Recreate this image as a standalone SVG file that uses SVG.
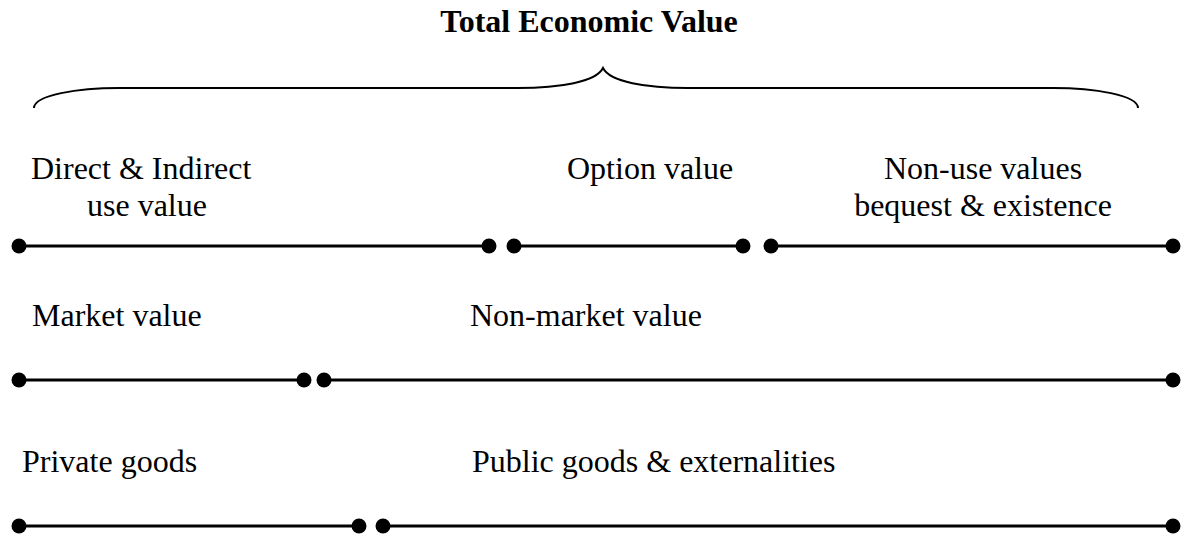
<svg xmlns="http://www.w3.org/2000/svg" width="1189" height="535" viewBox="0 0 1189 535">
<style>
.t{font-family:"Liberation Serif","Times New Roman",serif;font-size:32px;fill:#000}
.b{font-weight:bold}
.seg{stroke:#000;stroke-width:3.2;fill:none}
.dot{fill:#000}
.brace{stroke:#000;stroke-width:2;fill:none}
</style>
<rect width="1189" height="535" fill="#fff"/>
<g id="title"><text class="t b" x="589" y="32" text-anchor="middle">Total Economic Value</text></g>
<g id="brace"><path class="brace" d="M34,108 C34,95 78,88 119,88 L518,88 C560,88 596,82 603,68 C610,82 646,88 688,88 L1053,88 C1094,88 1138,95 1138,108"/></g>
<g id="label-direct"><text class="t" x="31" y="179">Direct &amp; Indirect</text><text class="t" x="87" y="216">use value</text></g>
<g id="label-option"><text class="t" x="567" y="179">Option value</text></g>
<g id="label-nonuse"><text class="t" x="983" y="179" text-anchor="middle">Non-use values</text><text class="t" x="983" y="216" text-anchor="middle">bequest &amp; existence</text></g>
<g id="label-market"><text class="t" x="32" y="326">Market value</text></g>
<g id="label-nonmarket"><text class="t" x="470" y="326">Non-market value</text></g>
<g id="label-private"><text class="t" x="22" y="472">Private goods</text></g>
<g id="label-public"><text class="t" x="472" y="472">Public goods &amp; externalities</text></g>
<g id="connectors">
<line class="seg" x1="19" y1="246" x2="489" y2="246"/>
<circle class="dot" cx="19" cy="246" r="7.5"/><circle class="dot" cx="489" cy="246" r="7.5"/>
<line class="seg" x1="514" y1="246" x2="743" y2="246"/>
<circle class="dot" cx="514" cy="246" r="7.5"/><circle class="dot" cx="743" cy="246" r="7.5"/>
<line class="seg" x1="771" y1="246" x2="1173" y2="246"/>
<circle class="dot" cx="771" cy="246" r="7.5"/><circle class="dot" cx="1173" cy="246" r="7.5"/>
<line class="seg" x1="19" y1="380" x2="304" y2="380"/>
<circle class="dot" cx="19" cy="380" r="7.5"/><circle class="dot" cx="304" cy="380" r="7.5"/>
<line class="seg" x1="324" y1="380" x2="1173" y2="380"/>
<circle class="dot" cx="324" cy="380" r="7.5"/><circle class="dot" cx="1173" cy="380" r="7.5"/>
<line class="seg" x1="19" y1="526" x2="359" y2="526"/>
<circle class="dot" cx="19" cy="526" r="7.5"/><circle class="dot" cx="359" cy="526" r="7.5"/>
<line class="seg" x1="383" y1="526" x2="1173" y2="526"/>
<circle class="dot" cx="383" cy="526" r="7.5"/><circle class="dot" cx="1173" cy="526" r="7.5"/>
</g>
</svg>
